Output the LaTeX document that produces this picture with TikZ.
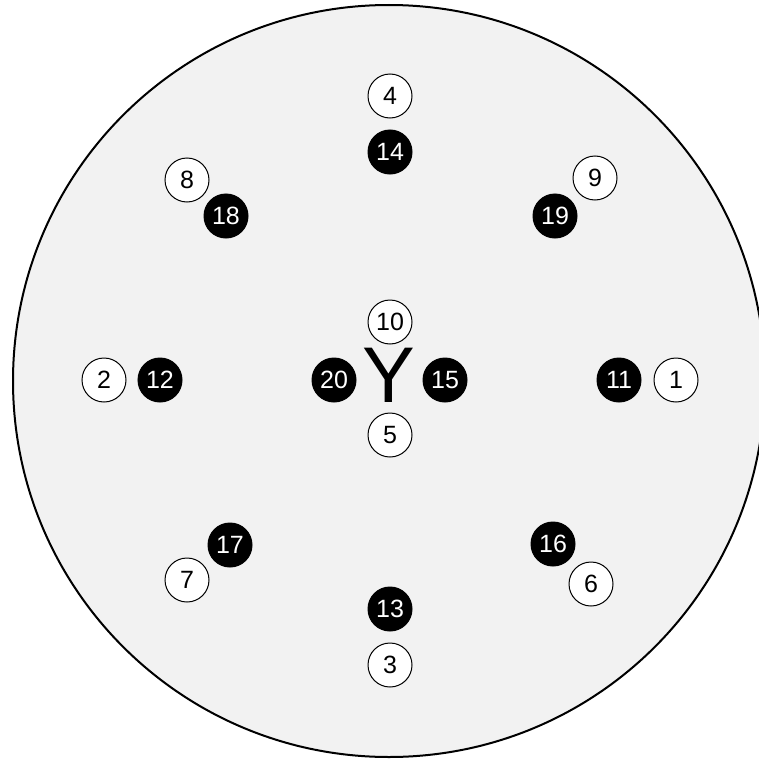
\documentclass[tikz,border=0pt]{standalone}
\usepackage{fontspec}
\setmainfont{Liberation Sans}
\definecolor{bgfill}{HTML}{F2F2F2}
\tikzset{
  wnum/.style={circle, draw=black, line width=1pt, fill=white, minimum size=44pt, inner sep=0pt, font=\fontsize{25}{25}\selectfont},
  bnum/.style={circle, draw=black, line width=1pt, fill=black, text=white, minimum size=44pt, inner sep=0pt, font=\fontsize{25}{25}\selectfont},
}
\begin{document}
\begin{tikzpicture}[x=1pt,y=-1pt]
\useasboundingbox (0,0) rectangle (759,760);
\fill[white] (0,0) rectangle (759,760);
\node[circle, draw=black, line width=2pt, fill=bgfill, minimum size=752pt, inner sep=0pt] (disk) at (389,381) {};
\node[wnum] (n4) at (390,96) {4};
\node[bnum] (n14) at (390,152) {14};
\node[wnum] (n8) at (187,180) {8};
\node[bnum] (n18) at (226,216) {18};
\node[wnum] (n9) at (595,178) {9};
\node[bnum] (n19) at (555,216) {19};
\node[wnum] (n10) at (390,322) {10};
\node[wnum] (n2) at (104,380) {2};
\node[bnum] (n12) at (160,380) {12};
\node[bnum] (n20) at (334,380) {20};
\node[inner sep=0pt, font=\fontsize{79}{79}\selectfont] (Y) at (389,375) {Y};
\node[bnum] (n15) at (445,380) {15};
\node[bnum] (n11) at (619,380) {11};
\node[wnum] (n1) at (676,380) {1};
\node[wnum] (n5) at (390,435) {5};
\node[bnum] (n17) at (230,545) {17};
\node[wnum] (n7) at (187,580) {7};
\node[bnum] (n16) at (553,544) {16};
\node[wnum] (n6) at (591,584) {6};
\node[bnum] (n13) at (390,609) {13};
\node[wnum] (n3) at (390,665) {3};
\end{tikzpicture}
\end{document}
